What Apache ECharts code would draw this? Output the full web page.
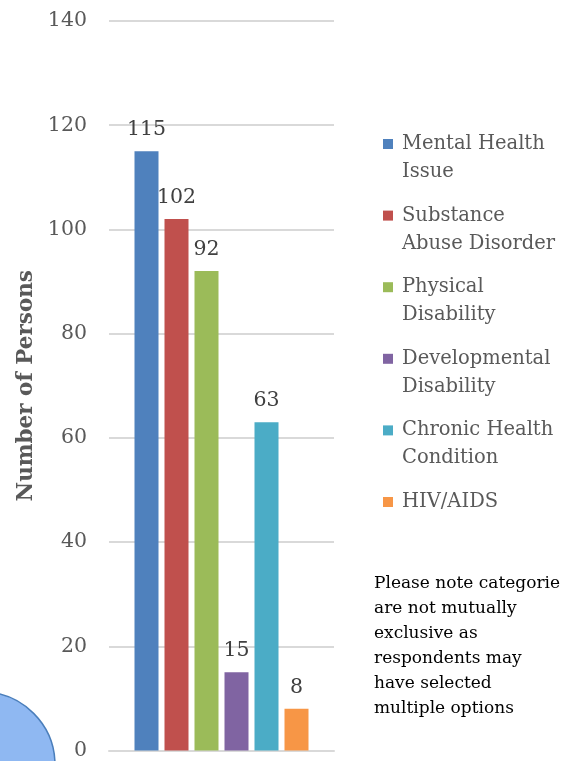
<!DOCTYPE html>
<html>
<head>
<meta charset="utf-8">
<script src="https://cdn.jsdelivr.net/npm/echarts@6/dist/echarts.min.js"></script>
<style>
  html, body { margin: 0; padding: 0; background: #fff; }
  #chart { width: 567px; height: 761px; }
</style>
</head>
<body>
<div id="chart"></div>
<script>
// chart data
var seriesNames = [
    "Mental Health Issue",
    "Substance Abuse Disorder",
    "Physical Disability",
    "Developmental Disability",
    "Chronic Health Condition",
    "HIV/AIDS"
];
// legend text wraps like the original
var legendLines = [
    "Mental Health\nIssue",
    "Substance\nAbuse Disorder",
    "Physical\nDisability",
    "Developmental\nDisability",
    "Chronic Health\nCondition",
    "HIV/AIDS\n "
];
var seriesValues = [115, 102, 92, 15, 63, 8];
var seriesColors = ["#4f81bd", "#c0504d", "#9bbb59", "#8064a2", "#4bacc6", "#f79646"];
var yTicks = { min: 0, max: 140, interval: 20 };
var noteText = "Please note categorie\nare not mutually\nexclusive as\nrespondents may\nhave selected\nmultiple options";

var serif = "'DejaVu Serif', serif";

var chart = echarts.init(document.getElementById("chart"));

var series = seriesNames.map(function(name, i) {
    return {
        name: name,
        type: "bar",
        barWidth: 24,
        barGap: "25%",
        itemStyle: { color: seriesColors[i] },
        label: {
            show: true,
            position: "top",
            distance: 11,
            color: "#404040",
            fontFamily: serif,
            fontSize: 20.5
        },
        data: [seriesValues[i]]
    };
});

var option = {
    animation: false,
    backgroundColor: "#ffffff",
    grid: {
        left: 109,
        right: 233,
        top: 21,
        bottom: 6,
        containLabel: false
    },
    xAxis: {
        type: "category",
        data: [""],
        axisLine: { lineStyle: { color: "#d9d9d9", width: 2 } },
        axisTick: { show: false },
        axisLabel: { show: false }
    },
    yAxis: {
        type: "value",
        min: yTicks.min,
        max: yTicks.max,
        interval: yTicks.interval,
        name: "Number of Persons",
        nameLocation: "middle",
        nameGap: 72,
        nameTextStyle: {
            color: "#595959",
            fontFamily: serif,
            fontWeight: "bold",
            fontSize: 21.5
        },
        axisLine: { show: false },
        axisTick: { show: false },
        axisLabel: {
            margin: 22,
            color: "#595959",
            fontFamily: serif,
            fontSize: 20.5
        },
        splitLine: { lineStyle: { color: "#d9d9d9", width: 2 } }
    },
    legend: {
        orient: "vertical",
        left: 383,
        top: 102,
        padding: 0,
        itemWidth: 10,
        itemHeight: 10,
        itemGap: -12.4,
        icon: "rect",
        data: seriesNames,
        formatter: function(name) {
            // leading blank line keeps the first line level with the icon
            return " \n" + legendLines[seriesNames.indexOf(name)];
        },
        textStyle: {
            color: "#595959",
            fontFamily: serif,
            fontSize: 19.5,
            lineHeight: 28,
            padding: [0, 0, 0, 4]
        }
    },
    graphic: [
        {
            type: "circle",
            shape: { cx: -18, cy: 765, r: 73 },
            style: { fill: "#8fb8f2", stroke: "#4a7ebb", lineWidth: 1.5 }
        },
        {
            type: "text",
            left: 374,
            top: 571,
            style: {
                text: noteText,
                fill: "#000000",
                font: "17px 'DejaVu Serif', serif",
                lineHeight: 25
            }
        }
    ],
    series: series
};

chart.setOption(option);
window.addEventListener("resize", function() {
    chart.resize();
});
</script>
</body>
</html>
